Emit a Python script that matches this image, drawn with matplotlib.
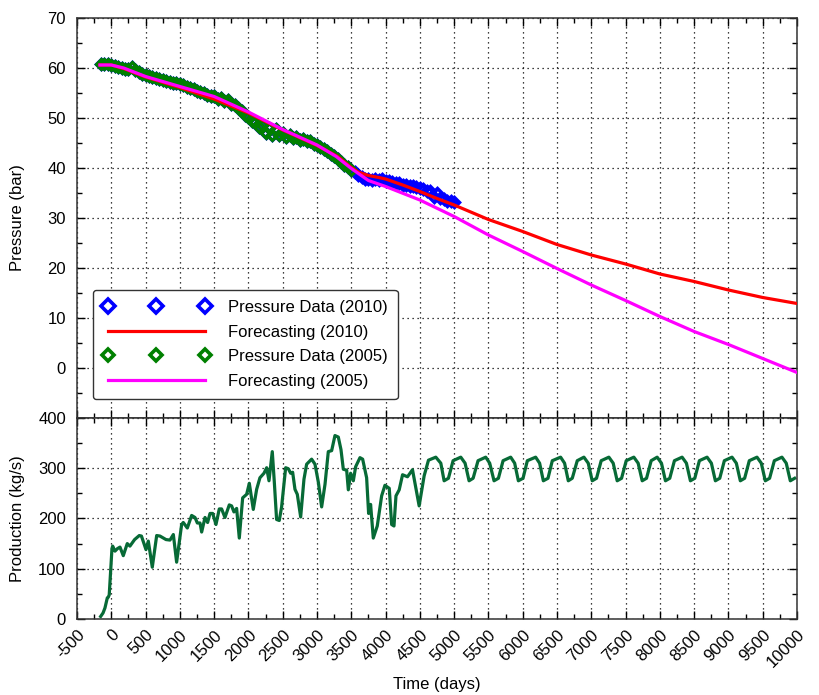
import numpy as np
import matplotlib
matplotlib.use('Agg')
import matplotlib.pyplot as plt
from matplotlib.ticker import MultipleLocator

plt.rcParams['font.family'] = ['Liberation Sans', 'DejaVu Sans']

# pressure readings, one every 50 days starting at day -150
p_days = np.arange(-150, 5001, 50)
p_data_2010 = [
    60.8, 60.8, 60.7, 60.6, 60.4, 60.1, 59.9, 59.8, 59.7, 60.1,
    59.5, 59.1, 58.8, 58.5, 58.3, 58.1, 57.9, 57.7, 57.5, 57.3,
    57.2, 57.0, 56.9, 56.7, 56.5, 56.2, 56.0, 55.7, 55.4, 55.2,
    54.9, 54.6, 54.4, 54.3, 53.8, 54.0, 53.3, 53.5, 52.8, 52.6,
    51.9, 51.3, 50.5, 50.2, 49.4, 49.1, 48.2, 48.5, 47.0, 47.9,
    46.6, 47.7, 46.5, 47.0, 46.2, 46.6, 45.9, 46.2, 45.6, 45.8,
    45.3, 45.4, 44.8, 44.6, 44.2, 43.8, 43.3, 42.8, 42.3, 41.8,
    41.2, 40.6, 40.1, 39.6, 39.1, 38.5, 38.2, 37.8, 37.8, 37.6,
    37.8, 37.6, 37.7, 37.4, 37.3, 37.2, 36.9, 36.9, 36.6, 36.6,
    36.4, 36.3, 36.1, 35.9, 35.8, 35.4, 35.3, 34.1, 34.9, 33.9,
    33.8, 33.4, 33.3, 33.1,
]
last_day_2005 = 3500  # the 2005 data set stops here

fc_days_2010 = [-165, 0, 180, 500, 1000, 1500, 2000, 2500, 3000, 3300, 3500, 3600,
                3750, 3900, 4000, 4250, 4500, 4750, 5000, 5500, 6000, 6500, 7000,
                7500, 8000, 8500, 9000, 9500, 10000]
fc_2010 = [60.6, 60.6, 59.9, 58.2, 56.1, 53.8, 51.0, 47.6, 44.5, 42.3, 40.1, 39.2,
           38.5, 38.1, 37.8, 36.6, 35.3, 33.9, 32.6, 29.7, 27.3, 24.7, 22.6,
           20.8, 18.8, 17.3, 15.6, 14.1, 12.9]

fc_days_2005 = [-165, 0, 180, 500, 1000, 1500, 2000, 2500, 3000, 3280, 3500, 3750,
                4000, 4500, 5000, 5500, 6000, 6500, 7000, 7500, 8000, 8500, 9000,
                9500, 10000]
fc_2005 = [60.6, 60.6, 60.0, 58.3, 56.3, 54.3, 51.2, 47.7, 44.6, 42.3, 39.9, 37.5,
           36.3, 33.6, 30.3, 26.6, 23.3, 19.9, 16.6, 13.5, 10.3, 7.3, 4.7,
           1.9, -0.9]

prod_days = [
    -155, -120, -92, -58, -45, -30, 10, 20, 54, 90, 127, 175, 233, 272, 340, 408,
    440, 506, 540, 598, 662, 710, 798, 856, 905, 953, 1026, 1050, 1109, 1172,
    1221, 1255, 1294, 1318, 1367, 1405, 1440, 1479, 1527, 1575, 1609, 1658,
    1721, 1755, 1789, 1828, 1867, 1916, 1974, 2013, 2071, 2120, 2168, 2227,
    2266, 2300, 2348, 2377, 2411, 2450, 2484, 2543, 2582, 2616, 2645, 2679,
    2713, 2762, 2810, 2849, 2922, 2971, 3020, 3068, 3117, 3165, 3214, 3262,
    3311, 3350, 3384, 3433, 3457, 3491, 3530, 3564, 3627, 3666, 3724, 3753,
    3782, 3821, 3879, 3943, 3991, 4054, 4089, 4123, 4152, 4199, 4248, 4320,
    4393, 4490, 4563, 4626, 4733, 4806, 4854, 4917, 4985, 5097, 5160, 5218,
    5277, 5349, 5461, 5519, 5582, 5646, 5714, 5825, 5883, 5937, 6005, 6068,
    6189, 6247, 6301, 6369, 6432, 6553, 6611, 6665, 6723, 6796, 6893, 6956,
    7014, 7077, 7145, 7257, 7320, 7378, 7442, 7510, 7621, 7684, 7743, 7806,
    7874, 7961, 8024, 8082, 8145, 8213, 8325, 8388, 8446, 8510, 8577, 8689,
    8752, 8810, 8874, 8941, 9053, 9116, 9174, 9237, 9305, 9417, 9480, 9538,
    9601, 9670, 9781, 9844, 9903, 9966,
]
prod_rate = [
    5, 12, 22, 42, 43, 48, 140, 145, 135, 140, 143, 126, 150, 145, 158, 166,
    165, 138, 155, 103, 166, 165, 158, 157, 168, 113, 188, 192, 181, 206,
    202, 191, 191, 173, 202, 192, 210, 210, 188, 219, 219, 202,
    227, 225, 213, 220, 161, 241, 248, 270, 218, 258, 281, 290,
    301, 275, 333, 274, 198, 196, 223, 301, 299, 290, 292, 258,
    248, 203, 278, 308, 318, 308, 272, 223, 268, 333, 335, 365,
    362, 337, 298, 296, 257, 290, 275, 303, 321, 318, 281, 210,
    228, 161, 185, 245, 266, 260, 188, 185, 245, 257, 287, 283,
    297, 225, 285, 316, 322, 310, 275, 280, 315, 322, 310, 275,
    280, 315, 322, 310, 275, 280, 315, 322, 310, 275, 280, 315,
    322, 310, 275, 280, 315, 322, 310, 275, 280, 315, 322, 310,
    275, 280, 315, 322, 310, 275, 280, 315, 322, 310, 275, 280,
    315, 322, 310, 275, 280, 315, 322, 310, 275, 280, 315, 322,
    310, 275, 280, 315, 322, 310, 275, 280, 315, 322, 310, 275,
    280, 315, 322, 310, 275, 280,
]

x_ticks = list(range(-500, 10001, 500))

fig = plt.figure(figsize=(8.2, 6.95), dpi=100)
ax1 = fig.add_axes([0.0939, 0.3986, 0.878, 0.5755])
ax2 = fig.add_axes([0.0939, 0.1094, 0.878, 0.2892])

p_days_2005 = p_days[p_days <= last_day_2005]
p_data_2005 = p_data_2010[:len(p_days_2005)]

h1, = ax1.plot(p_days, p_data_2010, 'D', ms=5.3, mfc='none', mec='blue', mew=2.5,
               zorder=2, label='Pressure Data (2010)')
h3, = ax1.plot(p_days_2005, p_data_2005, 'D', ms=4.8, mfc='none', mec='green', mew=2.3,
               zorder=3, label='Pressure Data (2005)')
h2, = ax1.plot(fc_days_2010, fc_2010, color='red', lw=2.3, zorder=4,
               label='Forecasting (2010)')
h4, = ax1.plot(fc_days_2005, fc_2005, color='magenta', lw=2.3, zorder=5,
               label='Forecasting (2005)')

ax2.plot(prod_days, prod_rate, color='#076a36', lw=2.3)

for ax in (ax1, ax2):
    ax.set_xlim(-500, 10000)
    ax.set_xticks(x_ticks)
    ax.xaxis.set_minor_locator(MultipleLocator(250))
    ax.tick_params(which='both', direction='in', top=True, right=True, labelsize=12)
    ax.tick_params(which='major', length=6, width=1, pad=8)
    ax.tick_params(which='minor', length=3.5, width=1)
    ax.grid(True, which='major', color='black', linestyle=(0, (1, 3)), lw=0.9)
    for s in ax.spines.values():
        s.set_color('#333333')
        s.set_linewidth(1.1)

ax1.set_ylim(-10, 70)
ax1.set_yticks(range(-10, 71, 10))
ax1.set_yticklabels([''] + [str(v) for v in range(0, 71, 10)])
ax1.yaxis.set_minor_locator(MultipleLocator(5))
ax1.tick_params(labelbottom=False)
ax1.set_ylabel('Pressure (bar)', fontsize=12)
ax1.yaxis.set_label_coords(-0.072, 0.5)

ax2.set_ylim(0, 400)
ax2.set_yticks(range(0, 401, 100))
ax2.yaxis.set_minor_locator(MultipleLocator(50))
ax2.set_xticklabels([str(v) for v in x_ticks], rotation=45, ha='right',
                    rotation_mode='anchor')
ax2.tick_params(axis='x', pad=6)
ax2.set_ylabel('Production (kg/s)', fontsize=12)
ax2.yaxis.set_label_coords(-0.072, 0.5)
ax2.set_xlabel('Time (days)', fontsize=12)
ax2.xaxis.set_label_coords(0.5, -0.29)

leg = ax1.legend(handles=[h1, h2, h3, h4], loc='upper left',
                 bbox_to_anchor=(0.022, 0.32), borderaxespad=0, numpoints=3,
                 markerscale=1.35, handlelength=6.4, handletextpad=1.1,
                 fancybox=True, framealpha=1, edgecolor='#333333',
                 fontsize=12, labelspacing=0.58, borderpad=0.6)
leg.get_frame().set_linewidth(1.0)
for lh in leg.legend_handles:
    lh.set_markeredgewidth(2.6)

fig.savefig('out.png', dpi=100)
